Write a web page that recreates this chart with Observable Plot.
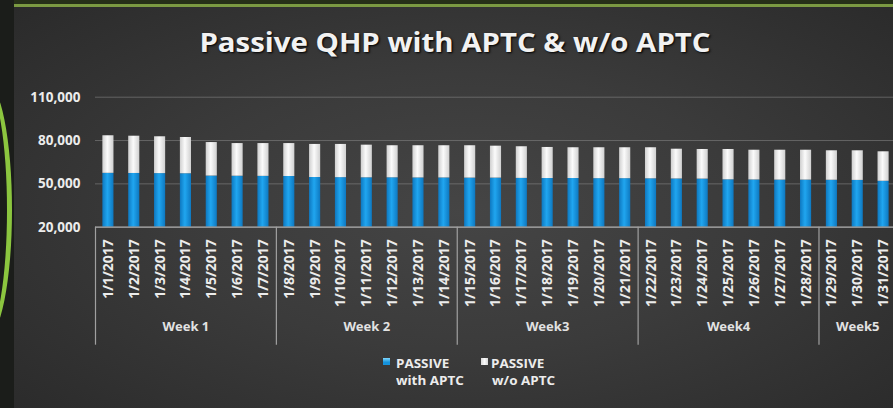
<!DOCTYPE html>
<html>
<head>
<meta charset="utf-8">
<script src="https://cdn.jsdelivr.net/npm/d3@7"></script>
<script src="https://cdn.jsdelivr.net/npm/@observablehq/plot@0.6"></script>
<style>
  html, body { margin: 0; padding: 0; }
  body {
    width: 893px; height: 408px; overflow: hidden; position: relative;
    background: radial-gradient(ellipse 70% 75% at 52% 52%, #454545 0%, #3b3b3b 45%, #2a2a2a 100%);
    font-family: "Open Sans", "DejaVu Sans", sans-serif;
  }
  #topband { position: absolute; left: 0; top: 0; width: 893px; height: 4px; background: #263018; }
  #topline { position: absolute; left: 12px; top: 4px; width: 881px; height: 3px; background: #7b9a42; }
  #leftstrip { position: absolute; left: 0; top: 0; width: 14px; height: 408px; background: #1b1d1a; overflow: hidden; }
  #arc { position: absolute; left: -40px; top: 82px; width: 52px; height: 256px; border-radius: 50%; border: 5px solid #8cc63f; box-sizing: border-box; }
  #title {
    position: absolute; left: 0; top: 27px; width: 910px; text-align: center;
    font-size: 26px; line-height: 30px; font-weight: 700; color: #f2f2f2;
    text-shadow: 1px 1px 2px #000;
    transform: scaleX(1.13); transform-origin: 455px 0;
  }
  #chart { position: absolute; left: 0; top: 70px; }
  .lg-sw { position: absolute; width: 7px; height: 7px; }
  .lg-tx { position: absolute; font-size: 12px; font-weight: 700; color: #ececec; line-height: 17px; transform: scaleX(1.12); transform-origin: 0 0; }
</style>
</head>
<body>
<div id="topband"></div>
<div id="topline"></div>
<div id="leftstrip"><div id="arc"></div></div>
<div id="title">Passive QHP with APTC &amp; w/o APTC</div>
<div id="chart"></div>
<div class="lg-sw" style="left:383px;top:358px;background:linear-gradient(#7fd8ff,#1592dc 60%);"></div>
<div class="lg-tx" style="left:396px;top:355px;">PASSIVE<br>with APTC</div>
<div class="lg-sw" style="left:481px;top:358px;background:linear-gradient(90deg,#d8d8d8,#fafafa,#d8d8d8);"></div>
<div class="lg-tx" style="left:491px;top:355px;">PASSIVE<br><span style="margin-left:1px">w/o APTC</span></div>
<script>
const dates = ["1/1/2017","1/2/2017","1/3/2017","1/4/2017","1/5/2017","1/6/2017","1/7/2017",
  "1/8/2017","1/9/2017","1/10/2017","1/11/2017","1/12/2017","1/13/2017","1/14/2017",
  "1/15/2017","1/16/2017","1/17/2017","1/18/2017","1/19/2017","1/20/2017","1/21/2017",
  "1/22/2017","1/23/2017","1/24/2017","1/25/2017","1/26/2017","1/27/2017","1/28/2017",
  "1/29/2017","1/30/2017","1/31/2017"];
const withAPTC = [57300, 57200, 57100, 57000, 55400, 55300, 55200, 55100, 54400, 54300, 54200,
  54200, 54100, 54100, 54000, 54000, 53800, 53700, 53700, 53600, 53600, 53500, 53400, 53300,
  52800, 52700, 52600, 52600, 52500, 52400, 51800];
const withoutAPTC = [26000, 25800, 25500, 25100, 23200, 22600, 22700, 22800, 22900, 23000, 22600,
  22200, 22300, 22300, 22400, 22100, 21900, 21500, 21300, 21400, 21400, 21500, 20600, 20500,
  21000, 20600, 20700, 20700, 20400, 20500, 20400];
const weekLabels = ["Week 1", "Week 2", "Week3", "Week4", "Week5"];
const weekStarts = ["1/1/2017", "1/8/2017", "1/15/2017", "1/22/2017", "1/29/2017"];
const weekMids = ["1/4/2017", "1/11/2017", "1/18/2017", "1/25/2017", "1/30/2017"];
const yTicks = [20000, 50000, 80000, 110000];

const rows = [];
dates.forEach((d, i) => {
  rows.push({date: d, series: "with", value: withAPTC[i]});
  rows.push({date: d, series: "without", value: withoutAPTC[i]});
});
const weeks = weekLabels.map((w, i) => ({label: w, start: weekStarts[i], mid: weekMids[i]}));

const W = 896, H = 290, mL = 95, mR = 0, mT = 26.7, mB = 133.3;
const step = (W - mL - mR) / dates.length;
const frameH = H - mT - mB;

const plot = Plot.plot({
  width: W, height: H,
  marginLeft: mL, marginRight: mR, marginTop: mT, marginBottom: mB,
  style: {background: "transparent", overflow: "visible", maxWidth: "none"},
  color: {type: "identity"},
  x: {type: "band", domain: dates, paddingInner: 0.57, paddingOuter: 0.285, round: false, label: null},
  y: {domain: [20000, 110000], label: null},
  marks: [
    Plot.gridY(yTicks, {stroke: "#8a8a8a", strokeOpacity: 0.55}),
    Plot.barY(rows, Plot.stackY({
      x: "date", y: "value",
      fill: d => d.series === "with" ? "url(#gBlue)" : "url(#gWhite)",
      clip: true
    })),
    Plot.ruleY([20000], {stroke: "#a8a8a8", strokeWidth: 1.2}),
    Plot.ruleX(weeks, {x: "start", dx: -step / 2, insetTop: frameH, insetBottom: -118, stroke: "#a0a0a0", strokeWidth: 1.2}),
    Plot.text(weeks, {x: "mid", text: "label", frameAnchor: "bottom", dy: 104, fill: "#e2e2e2", fontSize: 13, fontWeight: 700}),
    Plot.axisY(yTicks, {tickSize: 0, tickPadding: 15, tickFormat: d3.format(","), fill: "#ececec", fontSize: 13.5, fontWeight: 700, label: null}),
    Plot.axisX({tickSize: 0, tickPadding: 12, tickRotate: -90, fill: "#ececec", fontSize: 14, fontWeight: 700, label: null})
  ]
});

const svg = d3.select(plot);
const defs = svg.insert("defs", ":first-child");
const gb = defs.append("linearGradient").attr("id", "gBlue").attr("x1", "0").attr("x2", "1").attr("y1", "0").attr("y2", "0");
gb.append("stop").attr("offset", "0%").attr("stop-color", "#0e78c0");
gb.append("stop").attr("offset", "45%").attr("stop-color", "#20a6f0");
gb.append("stop").attr("offset", "100%").attr("stop-color", "#0e78c0");
const gw = defs.append("linearGradient").attr("id", "gWhite").attr("x1", "0").attr("x2", "1").attr("y1", "0").attr("y2", "0");
gw.append("stop").attr("offset", "0%").attr("stop-color", "#cfcfcf");
gw.append("stop").attr("offset", "45%").attr("stop-color", "#fbfbfb");
gw.append("stop").attr("offset", "100%").attr("stop-color", "#d0d0d0");

document.getElementById("chart").appendChild(plot);
</script>
</body>
</html>
